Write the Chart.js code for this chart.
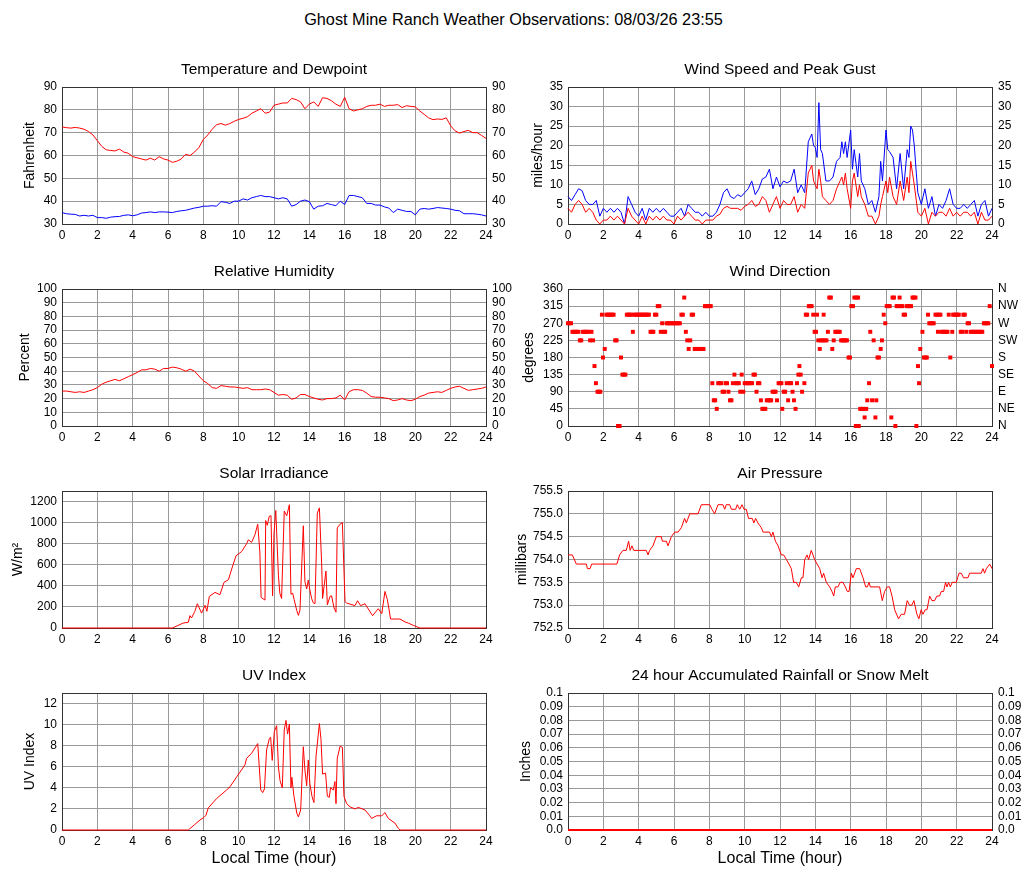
<!DOCTYPE html>
<html>
<head>
<meta charset="utf-8">
<title>Ghost Mine Ranch Weather Observations</title>
<script src="https://cdn.jsdelivr.net/npm/chart.js@4.4.1/dist/chart.umd.min.js"></script>
<style>
html, body { margin: 0; padding: 0; background: #fff; }
#page { position: relative; width: 1027px; height: 878px; overflow: hidden; font-family: "Liberation Sans", Arial, sans-serif; }
#mainTitle { position: absolute; left: 0; top: 8px; width: 1027px; text-align: center; font-size: 16.3px; line-height: 22px; color: #000; }
#page canvas { position: absolute; }
</style>
</head>
<body>
<div id="page">
  <div id="mainTitle">Ghost Mine Ranch Weather Observations: 08/03/26 23:55</div>
  <canvas id="temp"></canvas>
  <canvas id="wind"></canvas>
  <canvas id="humid"></canvas>
  <canvas id="winddir"></canvas>
  <canvas id="solar"></canvas>
  <canvas id="pressure"></canvas>
  <canvas id="uv"></canvas>
  <canvas id="rain"></canvas>
</div>
<script>
// ---- data (hour of day, value) ----
var quarterHours = [0,0.25,0.5,0.75,1,1.25,1.5,1.75,2,2.25,2.5,2.75,3,3.25,3.5,3.75,4,4.25,4.5,4.75,5,5.25,5.5,5.75,6,6.25,6.5,6.75,7,7.25,7.5,7.75,8,8.25,8.5,8.75,9,9.25,9.5,9.75,10,10.25,10.5,10.75,11,11.25,11.5,11.75,12,12.25,12.5,12.75,13,13.25,13.5,13.75,14,14.25,14.5,14.75,15,15.25,15.5,15.75,16,16.25,16.5,16.75,17,17.25,17.5,17.75,18,18.25,18.5,18.75,19,19.25,19.5,19.75,20,20.25,20.5,20.75,21,21.25,21.5,21.75,22,22.25,22.5,22.75,23,23.25,23.5,23.75,24];

var tempF = [72.5,72.2,72,72.3,72,71.5,70.5,69,
  66.5,64,62.5,62.2,62,62.8,61.5,61,
  59.5,59,58.5,58,58.8,58,59.5,58.5,
  58,57,57.5,58.5,60.5,60,61.5,63.5,
  67,69,71.5,73.5,74,73.3,74,75,
  75.8,76.3,77,78.5,79.5,80.5,78.5,79,
  82,82.5,83,83,85,84.5,83.5,80.5,
  82.5,83.5,81.5,85.3,85,84,82.5,81.5,
  85.5,80.5,79.5,80,80.5,81.5,82,82,
  82.5,81.5,82,82,82.3,81,81.8,81.5,
  81.3,79.5,78,76.5,75.7,76,75.8,76.5,
  73,70.8,69.8,70.5,71,70,70,68.8,
  67.5];

var dewF = [35,34.5,34.3,34.2,33.5,33.8,33.5,33.8,
  32.8,32.8,32.5,33,33.2,33.3,33.8,34,
  33.6,34,34.8,35,35.3,35,35.3,35.3,
  35.2,35,35.5,35.8,36,36.5,37,37.3,
  37.8,37.8,38,37.8,39.8,39.5,39,40,
  40,41,40.5,41.5,42,42.5,42,42,
  41.5,41,41.5,41,37.8,38.5,40,40.5,
  39.8,36.5,37.8,38,39,38.5,38,40,
  38.5,42.5,42.5,42,41.5,39,39,38.3,
  38.3,37.5,37,35,36.5,36,35.5,35.5,
  34,36.5,36.8,36.5,36.8,37.2,37,36.8,
  36.5,36,35.8,34.5,34.5,34.5,34.3,34,
  33.5];

var humidityPct = [25.5,25.5,25,24.5,25,24.5,25.5,26.5,
  28,30.5,32,33,34,33,34.5,36,
  37.5,39,41,41,42,41.5,40,42,
  42,43,42.5,41.5,40,41.5,40,36.5,
  33,31,28,27.5,29.5,29,28.5,28.5,
  28,27.5,28,26.5,26.5,26.5,27,26.5,
  24.5,22.5,23,22.5,19.5,20.5,23,23,
  21.5,20.5,19.5,19,20,20,20.5,22.5,
  19,25,26.5,26.5,26,24,21.5,21,
  21,20.5,20,18.5,19,20,19,18.5,
  19.5,21.5,22.5,24,24.5,25,24.5,26,
  27.5,28.5,29,27.5,26,26.5,27,27.5,
  28.5];

var windSpeed = [[0,4],[0.2,3],[0.4,5],[0.6,6],[0.8,5],[1,3],[1.2,4],[1.4,3],[1.6,1],[1.8,0],[2,1],[2.2,1],[2.4,2],[2.6,1],[2.8,2],[3,1],[3.2,0],[3.4,4],[3.6,2],[3.8,1],[4,0],[4.2,2],[4.4,0],[4.6,2],[4.8,1],[5,2],[5.2,1],[5.4,2],[5.6,1],[5.8,1],[6,0],[6.2,2],[6.4,1],[6.6,2],[6.8,3],[7,2],[7.2,1],[7.4,1],[7.6,0],[7.8,1],[8,1],
  [8.2,1],[8.4,2],[8.6,2.5],[8.8,4],[9,4.5],[9.2,4],[9.4,4],[9.6,4],[9.8,3.5],[10,4.5],[10.2,5],[10.4,6],[10.6,4.5],[10.8,5],[11,7],[11.2,6],[11.4,3],[11.6,5],[11.8,7],[12,4],[12.2,6],[12.4,5],[12.6,5],[12.8,7],[13,3],[13.2,5],[13.4,4],
  [13.6,13],[13.7,14],[13.8,15],[13.9,11],[14,10],[14.1,9],[14.2,14],[14.3,11],[14.4,7],[14.6,6],[14.8,5],[15,6],[15.2,9],[15.4,11],[15.5,12],[15.6,10],[15.7,13],[15.8,9],[16,4],[16.1,11],[16.2,13],[16.4,7],[16.5,10],[16.6,7],[16.8,5],[17,2],[17.2,2],[17.4,0],[17.6,2],[17.7,5],[17.8,7],[18,11],[18.1,8],[18.2,12],[18.4,7],[18.6,5],[18.8,11],[19,6],[19.2,12],[19.3,8],[19.4,16],[19.5,13],[19.6,10],[19.8,3],
  [20,2],[20.2,4],[20.4,0],[20.6,3],[20.8,2],[21,3],[21.2,3],[21.4,2],[21.6,4],[21.8,2],[22,3],[22.2,2],[22.4,3],[22.6,3],[22.8,2],[23,3],[23.2,0],[23.4,3],[23.6,1],[23.8,1],[24,2]];

var windGust = [[0,7],[0.2,6],[0.4,7.5],[0.6,9],[0.8,8.5],[1,6],[1.2,5],[1.4,5],[1.6,6],[1.8,2],[2,4],[2.2,3],[2.4,4],[2.6,3],[2.8,4],[3,3],[3.2,0],[3.4,7],[3.6,5],[3.8,3],[4,2],[4.2,4],[4.4,1],[4.6,4],[4.8,3],[5,4],[5.2,3],[5.4,4],[5.6,3],[5.8,2],[6,2],[6.2,3],[6.4,4],[6.6,2],[6.8,5],[7,4],[7.2,3],[7.4,3],[7.6,2],[7.8,3],[8,2],
  [8.2,2],[8.4,3],[8.6,5],[8.8,8],[9,9],[9.2,7],[9.4,6.5],[9.6,7.5],[9.8,7],[10,8],[10.2,9],[10.4,11],[10.6,7.5],[10.8,9],[11,11.5],[11.2,12],[11.4,14],[11.6,9],[11.8,12],[12,9.5],[12.2,11],[12.4,10.5],[12.6,11],[12.8,14],[13,8],[13.2,10],[13.4,8],
  [13.6,21],[13.7,22],[13.8,23],[13.9,20],[14,19.5],[14.1,17],[14.2,31],[14.3,19],[14.4,18],[14.6,11],[14.8,11],[15,12],[15.2,16],[15.4,17],[15.5,21],[15.6,18],[15.7,21],[15.8,17],[16,24],[16.1,14],[16.2,19],[16.4,12],[16.5,18],[16.6,11],[16.8,9],[17,5],[17.2,6],[17.4,3],[17.6,7],[17.7,16],[17.8,11],[18,24],[18.1,19],[18.2,18.5],[18.4,17],[18.6,9],[18.8,18],[19,9],[19.2,19],[19.3,17],[19.4,25],[19.5,24],[19.6,20],[19.8,8],
  [20,5],[20.2,9],[20.4,4],[20.6,7],[20.8,2],[21,5],[21.2,4],[21.4,6],[21.6,9],[21.8,5],[22,4],[22.2,4],[22.4,5],[22.6,4],[22.8,5],[23,6],[23.2,2],[23.4,5],[23.6,6],[23.8,2],[24,4]];

var windDirDeg = [[0,270],[0.08,270],[0.17,270],[0.25,247.5],[0.33,247.5],[0.42,247.5],[0.5,247.5],[0.58,247.5],[0.67,225],[0.75,225],[0.83,247.5],[0.92,247.5],[1,247.5],[1.08,247.5],[1.17,247.5],[1.25,225],[1.33,247.5],[1.42,225],[1.5,157.5],[1.58,112.5],[1.67,90],[1.75,90],[1.83,90],[1.92,292.5],[1.98,180],[2.08,202.5],[2.17,292.5],[2.25,292.5],[2.33,292.5],[2.42,292.5],[2.5,292.5],[2.58,292.5],[2.67,225],[2.75,225],[2.83,0],[2.92,0],[3,180],[3.08,135],[3.17,135],[3.25,135],
  [3.33,292.5],[3.42,292.5],[3.5,292.5],[3.58,292.5],[3.67,247.5],[3.75,292.5],[3.83,292.5],[3.92,292.5],[4,292.5],[4.08,292.5],[4.17,292.5],[4.25,292.5],[4.33,292.5],[4.42,292.5],[4.5,292.5],[4.58,292.5],[4.67,247.5],[4.75,247.5],[4.83,247.5],[4.92,292.5],[5,292.5],[5.08,315],[5.17,315],[5.25,247.5],[5.33,270],[5.42,247.5],[5.5,247.5],[5.58,270],[5.67,270],[5.75,270],[5.83,270],[5.92,270],[6,270],[6.08,270],[6.17,270],[6.25,270],[6.33,270],[6.42,292.5],[6.5,292.5],[6.58,337.5],[6.67,247.5],[6.75,225],[6.83,202.5],[6.92,225],[7,292.5],[7.08,292.5],
  [7.17,202.5],[7.25,202.5],[7.33,202.5],[7.42,202.5],[7.5,202.5],[7.58,202.5],[7.67,202.5],[7.75,315],[7.83,315],[7.92,315],[8,315],[8.08,315],[8.17,112.5],[8.25,67.5],[8.33,67.5],[8.42,45],[8.5,112.5],[8.58,112.5],[8.67,112.5],[8.75,90],[8.83,90],[8.92,112.5],[9,112.5],[9.08,90],[9.17,67.5],[9.25,67.5],[9.33,112.5],[9.42,135],[9.5,112.5],[9.58,112.5],[9.67,112.5],[9.75,90],[9.83,135],[9.92,90],[10,112.5],[10.08,112.5],[10.17,112.5],[10.25,112.5],[10.33,112.5],[10.42,112.5],[10.5,135],[10.58,135],[10.67,90],[10.75,112.5],[10.83,112.5],
  [10.92,67.5],[11,45],[11.08,45],[11.17,45],[11.25,67.5],[11.33,67.5],[11.42,67.5],[11.5,67.5],[11.58,90],[11.67,90],[11.75,90],[11.83,67.5],[11.92,112.5],[12,112.5],[12.08,112.5],[12.13,45],[12.21,90],[12.29,90],[12.38,112.5],[12.46,67.5],[12.54,112.5],[12.63,112.5],[12.71,90],[12.79,67.5],[12.88,45],[12.96,112.5],[13.04,135],[13.1,157.5],[13.17,135],[13.25,90],[13.38,112.5],[13.46,292.5],[13.54,292.5],[13.63,315],[13.71,315],[13.79,315],[13.88,292.5],[13.96,247.5],[14.04,247.5],[14.1,292.5],[14.17,225],[14.25,202.5],[14.33,225],[14.42,225],[14.47,292.5],[14.54,225],[14.63,225],[14.71,247.5],[14.79,337.5],[14.88,337.5],
  [14.96,202.5],[15.04,225],[15.13,247.5],[15.21,247.5],[15.29,247.5],[15.38,247.5],[15.46,225],[15.54,225],[15.63,225],[15.71,225],[15.79,225],[15.88,180],[15.96,180],[16.04,315],[16.13,315],[16.21,337.5],[16.29,0],[16.33,337.5],[16.38,0],[16.42,337.5],[16.46,0],[16.54,45],[16.63,45],[16.71,45],[16.79,22.5],[16.88,45],[16.94,67.5],[17.04,112.5],[17.11,247.5],[17.21,67.5],[17.3,225],[17.4,22.5],[17.45,67.5],[17.52,180],[17.6,180],[17.7,202.5],[17.77,225],[17.87,292.5],[17.96,270],
  [18.04,315],[18.13,315],[18.21,315],[18.3,22.5],[18.37,337.5],[18.45,337.5],[18.53,0],[18.6,315],[18.68,315],[18.77,337.5],[18.85,315],[18.92,315],[19,292.5],[19.08,292.5],[19.17,315],[19.25,315],[19.33,315],[19.42,315],[19.5,337.5],[19.58,337.5],[19.67,337.5],[19.72,0],[19.81,157.5],[19.87,112.5],[19.94,202.5],[20.06,247.5],[20.15,180],[20.23,180],[20.31,180],[20.38,292.5],[20.45,270],[20.53,270],[20.62,270],[20.7,270],[20.8,292.5],[20.88,292.5],[20.94,247.5],[21,292.5],[21.08,292.5],
  [21.15,247.5],[21.23,247.5],[21.31,247.5],[21.4,247.5],[21.48,247.5],[21.55,292.5],[21.64,180],[21.75,247.5],[21.8,292.5],[21.88,292.5],[21.96,292.5],[22.04,292.5],[22.12,292.5],[22.23,247.5],[22.31,247.5],[22.38,292.5],[22.46,292.5],[22.54,247.5],[22.62,270],[22.7,270],[22.79,247.5],[22.87,247.5],[22.95,247.5],[23.04,247.5],[23.12,247.5],[23.2,247.5],[23.29,247.5],[23.37,247.5],[23.45,247.5],[23.54,270],[23.62,270],[23.7,270],[23.79,270],[23.87,315],[24,157.5]];

var solarWm2 = [[0,0],[6.25,0],[6.86,47],[7.15,54],[7.24,117],[7.33,95],[7.52,158],[7.66,230],[7.9,142],[8.1,215],[8.2,158],[8.34,300],[8.66,338],[8.94,316],[9.17,433],[9.42,458],[9.64,578],[9.85,685],[10.17,726],[10.45,800],[10.55,837],[10.73,812],[10.92,884],[11.08,985],[11.2,720],[11.27,290],[11.49,265],[11.53,1020],[11.62,975],[11.73,1060],[11.83,1066],[11.92,306],[12,900],[12.1,1115],[12.25,500],[12.33,330],[12.43,280],[12.58,1110],[12.72,1065],[12.87,1170],[12.96,320],[13.06,330],[13.14,270],[13.29,165],[13.38,120],[13.47,170],[13.66,970],[13.75,440],[13.85,370],[13.94,455],[14.03,360],[14.13,280],[14.22,240],[14.32,230],[14.45,1090],[14.57,1140],[14.7,600],[14.75,280],[14.94,540],[15.02,220],[15.17,300],[15.26,305],[15.4,190],[15.51,150],[15.58,950],[15.74,985],[15.87,1000],[16.02,250],[16.11,237],[16.58,212],[16.73,259],[16.9,212],[17.15,230],[17.58,117],[17.9,183],[18.1,136],[18.28,347],[18.42,268],[18.6,85],[19.13,85],[19.42,57],[19.6,47],[19.88,25],[20.26,0],[24,0]];

var pressureMb = [[0,754.1],[0.25,754.1],[0.47,753.9],[1.04,753.9],[1.1,753.8],[1.25,753.8],[1.34,753.9],[2.77,753.9],[2.92,754.1],[3.11,754.2],[3.3,754.2],[3.43,754.4],[3.52,754.2],[3.62,754.3],[3.72,754.2],[4.43,754.2],[4.53,754.1],[4.62,754.2],[4.81,754.3],[5,754.5],[5.28,754.5],[5.34,754.4],[5.57,754.4],[5.66,754.3],[5.85,754.5],[6.04,754.6],[6.23,754.6],[6.42,754.7],[6.6,754.9],[6.7,754.8],[6.89,755],[7.36,755],[7.55,755.2],[8.02,755.2],[8.15,755.1],[8.3,755],[8.49,755.2],[8.77,755.2],[8.87,755.1],[8.96,755.2],[9.15,755.2],[9.25,755.1],[9.49,755.1],[9.58,755.2],[9.72,755.1],[9.85,755.2],[9.96,755.1],[10.09,755.1],[10.22,754.9],[10.43,754.9],[10.52,754.8],[10.62,754.9],[10.75,754.8],[10.94,754.7],[11.04,754.6],[11.41,754.6],[11.51,754.5],[11.6,754.6],[11.74,754.4],[11.89,754.3],[11.98,754.2],[12.08,754.1],[12.21,754.1],[12.36,754],[12.51,753.9],[12.64,753.8],[12.77,753.5],[12.92,753.5],[13.06,753.4],[13.21,753.6],[13.3,753.6],[13.4,754],[13.53,754.1],[13.62,754],[13.77,754.2],[13.96,754],[14.1,753.9],[14.25,753.8],[14.38,753.6],[14.47,753.7],[14.62,753.5],[14.81,753.4],[14.94,753.3],[15.04,753.2],[15.13,753.4],[15.28,753.4],[15.41,753.5],[15.56,753.5],[15.7,753.4],[15.81,753.3],[15.91,753.3],[16.04,753.7],[16.13,753.6],[16.32,753.8],[16.51,753.8],[16.7,753.6],[16.85,753.4],[16.94,753.4],[17.04,753.5],[17.11,753.4],[17.64,753.4],[17.79,753.1],[17.92,753.3],[18.07,753.4],[18.2,753.4],[18.34,753.2],[18.49,752.9],[18.71,752.7],[18.86,752.8],[19.05,752.8],[19.2,753.1],[19.33,753],[19.46,753],[19.58,753.1],[19.75,752.8],[19.86,752.7],[19.99,752.9],[20.09,752.8],[20.22,752.9],[20.32,752.9],[20.47,753.2],[20.6,753.1],[20.75,753.1],[20.88,753.2],[21.03,753.2],[21.13,753.3],[21.26,753.3],[21.37,753.5],[21.45,753.4],[21.54,753.5],[21.64,753.4],[21.75,753.5],[21.98,753.5],[22.13,753.7],[22.26,753.7],[22.39,753.6],[22.64,753.6],[22.73,753.7],[23.39,753.7],[23.49,753.8],[23.58,753.7],[23.68,753.8],[23.87,753.9],[24,753.8]];

var uvIndex = [[0,0],[7.15,0],[7.5,0.5],[7.81,0.95],[8.04,1.2],[8.15,1.4],[8.28,2.1],[8.76,3],[9.32,3.8],[9.51,4.1],[9.89,5.05],[10.08,5.5],[10.36,6.2],[10.45,6.8],[10.74,7.3],[11.08,8.2],[11.25,3.8],[11.36,3.55],[11.46,3.9],[11.58,7.6],[11.74,8.7],[11.81,8.8],[11.9,6.6],[12.02,9.35],[12.15,9.9],[12.25,6],[12.34,4.7],[12.47,4],[12.58,9.5],[12.68,10.4],[12.77,9.1],[12.87,10.05],[12.96,4],[13.01,5],[13.13,3.2],[13.29,1.6],[13.38,1.25],[13.51,1.9],[13.66,7.9],[13.75,5.7],[13.85,4.2],[13.94,6.65],[14.03,4.4],[14.15,3.2],[14.26,2.6],[14.38,7],[14.57,10.1],[14.66,8.6],[14.75,5.3],[14.92,5.4],[15.02,3.2],[15.13,3.1],[15.2,4],[15.36,3.8],[15.45,4.6],[15.51,2.5],[15.58,6.8],[15.74,7.95],[15.87,7.85],[15.96,3.2],[16.11,2.5],[16.3,2.2],[16.59,2],[16.77,2.15],[17.15,1.9],[17.4,1.4],[17.53,1.1],[17.81,1.35],[18.1,1.35],[18.28,1.65],[18.47,1.1],[18.85,0.65],[19.04,0.15],[19.13,0],[24,0]];

var rainInches = [[0,0],[24,0]];

var compassLabels = ['N', 'NE', 'E', 'SE', 'S', 'SW', 'W', 'NW', 'N'];
var rainTickLabels = ['0.0', '0.01', '0.02', '0.03', '0.04', '0.05', '0.06', '0.07', '0.08', '0.09', '0.1'];

// ---- page layout ----
var colLeft = [0, 513];
var colWidth = [513, 514];
var leftAxisWidth = [62, 55];
var rightAxisWidth = [27, 35];
var rowTop = [55, 257, 459, 661];
var rowHeight = [191, 191, 191, 217];

var GRID = '#999999';
var RED = '#ff0000';
var BLUE = '#0000ff';

Chart.defaults.font.family = '"Liberation Sans", Arial, Helvetica, sans-serif';
Chart.defaults.color = '#000';
Chart.defaults.animation = false;

var plotBox = {
    id: 'plotBox',
    beforeDatasetsDraw: function (chart) {
        var a = chart.chartArea;
        var ctx = chart.ctx;
        ctx.save();
        ctx.strokeStyle = '#333333';
        ctx.lineWidth = 1;
        ctx.strokeRect(Math.round(a.left) + 0.5, Math.round(a.top) + 0.5,
            Math.round(a.right - a.left), Math.round(a.bottom - a.top));
        ctx.restore();
    }
};

function joinHours(hours, values) {
    return hours.map(function (h, i) { return { x: h, y: values[i] }; });
}

function lineSet(data, color) {
    return {
        data: data,
        borderColor: color,
        borderWidth: 1,
        pointRadius: 0,
        tension: 0,
        clip: 3
    };
}

function plainLabel(value) {
    return String(value);
}

function makePanel(id, col, row, p) {
    var canvas = document.getElementById(id);
    var bottomRow = row === 3;
    canvas.width = colWidth[col];
    canvas.height = rowHeight[row];
    canvas.style.left = colLeft[col] + 'px';
    canvas.style.top = rowTop[row] + 'px';

    var label = p.label || plainLabel;
    var scales = {
        x: {
            type: 'linear', min: 0, max: 24,
            grid: { color: GRID, drawTicks: false },
            border: { display: false },
            ticks: { stepSize: 2, padding: 4, autoSkip: false, maxRotation: 0, font: { size: 12 }, callback: plainLabel },
            title: { display: bottomRow, text: 'Local Time (hour)', font: { size: 16 }, padding: { top: 0, bottom: 10 } },
            afterFit: function (s) { s.height = bottomRow ? 48 : 22; }
        },
        y: {
            type: 'linear', min: p.min, max: p.max,
            grid: { color: GRID, drawTicks: false },
            border: { display: false },
            ticks: { stepSize: p.step, padding: 5, autoSkip: false, includeBounds: false, font: { size: 12 }, callback: label },
            title: { display: true, text: p.yTitle, font: { size: 14 }, padding: { top: p.titleGap, bottom: 0 } },
            afterFit: function (s) { s.width = leftAxisWidth[col]; }
        }
    };
    if (p.right) {
        scales.y2 = {
            type: 'linear', position: 'right', min: p.min, max: p.max,
            grid: { drawOnChartArea: false, drawTicks: false },
            border: { display: false },
            ticks: { stepSize: p.step, padding: 6, autoSkip: false, includeBounds: false, font: { size: 12 }, callback: p.rightLabel || label },
            afterFit: function (s) { s.width = rightAxisWidth[col]; }
        };
    }

    return new Chart(canvas, {
        type: p.type || 'line',
        data: { datasets: p.datasets },
        options: {
            responsive: false,
            devicePixelRatio: 1,
            animation: false,
            layout: { padding: { top: 0, left: 0, bottom: 0, right: p.right ? 0 : rightAxisWidth[col] } },
            scales: scales,
            plugins: {
                legend: { display: false },
                tooltip: { enabled: false },
                title: {
                    display: true, text: p.title, fullSize: false,
                    font: { size: 15.5, weight: 'normal' },
                    padding: { top: 5, bottom: 8.4 }
                }
            }
        },
        plugins: [plotBox]
    });
}

makePanel('temp', 0, 0, {
    title: 'Temperature and Dewpoint', yTitle: 'Fahrenheit', titleGap: 22,
    min: 30, max: 90, step: 10, right: true,
    datasets: [lineSet(joinHours(quarterHours, tempF), RED), lineSet(joinHours(quarterHours, dewF), BLUE)]
});

makePanel('wind', 1, 0, {
    title: 'Wind Speed and Peak Gust', yTitle: 'miles/hour', titleGap: 17,
    min: 0, max: 35, step: 5, right: true,
    datasets: [lineSet(windSpeed, RED), lineSet(windGust, BLUE)]
});

makePanel('humid', 0, 1, {
    title: 'Relative Humidity', yTitle: 'Percent', titleGap: 17,
    min: 0, max: 100, step: 10, right: true,
    datasets: [lineSet(joinHours(quarterHours, humidityPct), RED)]
});

makePanel('winddir', 1, 1, {
    type: 'scatter',
    title: 'Wind Direction', yTitle: 'degrees', titleGap: 8,
    min: 0, max: 360, step: 45, right: true,
    rightLabel: function (value) { return compassLabels[Math.round(value / 45)]; },
    datasets: [{
        data: windDirDeg,
        pointStyle: 'rect',
        pointRadius: 2.8,
        pointBackgroundColor: RED,
        pointBorderWidth: 0,
        showLine: false,
        clip: 3
    }]
});

makePanel('solar', 0, 2, {
    title: 'Solar Irradiance', yTitle: 'W/m\u00B2', titleGap: 10,
    min: 0, max: 1300, step: 200, right: false,
    datasets: [lineSet(solarWm2, RED)]
});

makePanel('pressure', 1, 2, {
    title: 'Air Pressure', yTitle: 'millibars', titleGap: 1,
    min: 752.5, max: 755.5, step: 0.5, right: false,
    label: function (value) { return value.toFixed(1); },
    datasets: [lineSet(pressureMb, RED)]
});

makePanel('uv', 0, 3, {
    title: 'UV Index', yTitle: 'UV Index', titleGap: 22,
    min: 0, max: 13, step: 2, right: false,
    datasets: [lineSet(uvIndex, RED)]
});

var rainSet = lineSet(rainInches, RED);
rainSet.borderWidth = 2;
makePanel('rain', 1, 3, {
    title: '24 hour Accumulated Rainfall or Snow Melt', yTitle: 'Inches', titleGap: 5,
    min: 0, max: 0.1, step: 0.01, right: true,
    label: function (value) { return rainTickLabels[Math.round(value * 100)]; },
    datasets: [rainSet]
});
</script>
</body>
</html>
